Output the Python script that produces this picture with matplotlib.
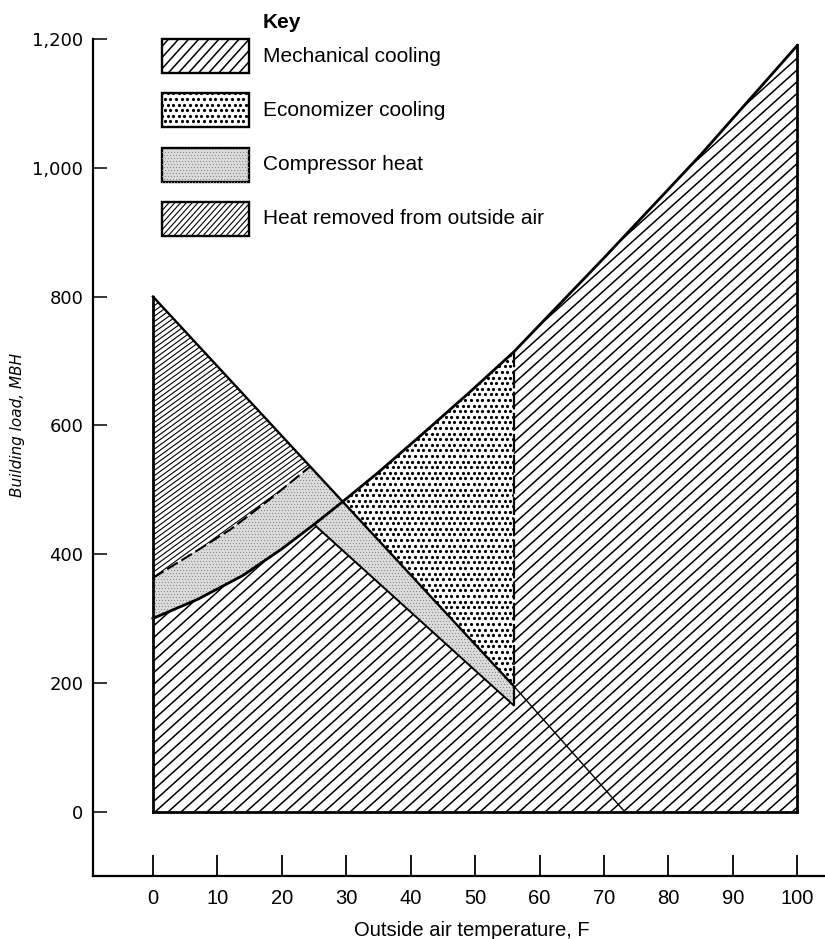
import numpy as np
import matplotlib
matplotlib.use("Agg")
import matplotlib.pyplot as plt
from matplotlib.patches import Polygon, Rectangle
from matplotlib.collections import LineCollection
from matplotlib.lines import Line2D
from matplotlib.transforms import IdentityTransform

# values: x = outside air temperature (F), y = building load (MBH)
# rising curve = building cooling load
load_x = [0, 7, 14, 20, 25, 29.4, 35, 42, 49, 56, 70, 85, 100]
load_y = [300, 330, 367, 408, 446, 481, 527, 588, 650, 714, 860, 1020, 1190]
# falling line = heat that has to be removed from outside air
heat_x = [0, 24.4, 29.4, 56, 73.2]
heat_y = [800, 536, 482, 195, 0]
# dashed curve = load plus compressor heat
comp_x = [0, 6, 12, 18, 24.4]
comp_y = [363, 400, 438, 484, 536]
# lower edge of the compressor heat band
band_x = [25, 56]
band_y = [446, 165]

x_ticks = list(range(0, 101, 10))
y_ticks = list(range(0, 1201, 200))
key_labels = ["Mechanical cooling", "Economizer cooling", "Compressor heat",
              "Heat removed from outside air"]

W, H = 825, 939
fig = plt.figure(figsize=(W / 100, H / 100), dpi=100)
ax = fig.add_axes([93 / W, 1 - 876 / H, (W - 93) / W, (876 - 39) / H])
ax.set_xlim(-9.3, 104.3)
ax.set_ylim(-100, 1200)

ident = IdentityTransform()


def hatch(parent, clip, bounds, angle, gap, lw):
    x0, y0, w, h = bounds
    t = np.tan(np.radians(angle))
    cs = np.arange(-t * w, h, gap / np.cos(np.radians(angle)))
    segs = [[(x0, y0 + c), (x0 + w, y0 + c + t * w)] for c in cs]
    lc = LineCollection(segs, colors="black", linewidths=lw, transform=ident)
    if parent is ax:
        ax.add_collection(lc, autolim=False)
    else:
        fig.add_artist(lc)
    lc.set_clip_path(clip)


def dots(parent, clip, bounds, gap, ms, color):
    x0, y0, w, h = bounds
    xs, ys = np.meshgrid(np.arange(x0, x0 + w, gap), np.arange(y0, y0 + h, gap))
    xs[1::2] += gap / 2
    ln = Line2D(xs.ravel(), ys.ravel(), ls="none", marker="o", ms=ms,
                mec="none", mfc=color, transform=ident)
    parent.add_artist(ln)
    ln.set_clip_path(clip)


def region(pts, face="white"):
    p = Polygon(pts, closed=True, facecolor=face, edgecolor="none")
    ax.add_patch(p)
    return p


# polygons built from the read values
mech_pts = ([(0, 0)] + list(zip(load_x[:5], load_y[:5])) + [(band_x[1], band_y[1])]
            + list(zip(load_x[9:], load_y[9:])) + [(load_x[-1], 0)])
comp_pts = (list(zip(load_x[:5], load_y[:5])) + [(band_x[1], band_y[1])]
            + list(zip(heat_x[3:0:-1], heat_y[3:0:-1]))
            + list(zip(comp_x[-2::-1], comp_y[-2::-1])))
econ_pts = list(zip(load_x[5:10], load_y[5:10])) + list(zip(heat_x[3:1:-1], heat_y[3:1:-1]))
hot_pts = list(zip(heat_x[:2], heat_y[:2])) + list(zip(comp_x[::-1], comp_y[::-1]))

bb = ax.bbox.bounds
p_mech = region(mech_pts)
hatch(ax, p_mech, bb, 42, 8.7, 1.1)
p_comp = region(comp_pts, "#dcdcdc")
dots(ax, p_comp, bb, 3.0, 0.9, "#888888")
p_econ = region(econ_pts)
dots(ax, p_econ, bb, 5.6, 2.3, "black")
p_hot = region(hot_pts)
hatch(ax, p_hot, bb, 36, 4.3, 0.8)

# outlines
ax.plot(load_x, load_y, color="black", lw=2.0)
ax.plot(heat_x[:4], heat_y[:4], color="black", lw=1.7)
ax.plot(heat_x[3:], heat_y[3:], color="black", lw=1.0)
ax.plot(comp_x, comp_y, color="black", lw=1.5, ls=(0, (6, 2)))
ax.plot(band_x, band_y, color="black", lw=1.4)
ax.plot([band_x[1], band_x[1]], [band_y[1], load_y[9]], color="black", lw=1.6, ls=(0, (8, 1.5)))
ax.plot([0, 0], [0, heat_y[0]], color="black", lw=2.0)
ax.plot([0, load_x[-1]], [0, 0], color="black", lw=2.0)
ax.plot([load_x[-1], load_x[-1]], [0, load_y[-1]], color="black", lw=2.0)

# axes styling
for s in ["top", "right"]:
    ax.spines[s].set_visible(False)
for s in ["left", "bottom"]:
    ax.spines[s].set_linewidth(1.6)
ax.set_xticks(x_ticks)
ax.set_xticklabels([str(v) for v in x_ticks], family="Liberation Sans", fontsize=14.5)
ax.set_yticks(y_ticks)
ax.set_yticklabels([f"{v:,}" for v in y_ticks], family="DejaVu Sans", fontsize=13)
ax.tick_params(axis="x", direction="in", length=15, width=1.3, pad=9)
ax.tick_params(axis="y", direction="in", length=10, width=1.1, pad=7)

fig.text(472 / W, 1 - 930 / H, "Outside air temperature, F", ha="center", va="center",
         family="Liberation Sans", fontsize=14.5)
fig.text(18 / W, 1 - 425 / H, "Building load, MBH", rotation=90, ha="center",
         va="center", fontsize=11, style="italic")

# key (image pixel positions, top-left origin)
fig.text(263 / W, 1 - 22 / H, "Key", ha="left", va="center", family="Liberation Sans",
         fontsize=15, weight="bold")
tops = [39, 93, 148, 202]
for i, (top, lab) in enumerate(zip(tops, key_labels)):
    bx = (162, H - top - 34, 87, 34)
    clip = Rectangle(bx[:2], bx[2], bx[3], transform=ident,
                     facecolor="#dcdcdc" if i == 2 else "white", edgecolor="none")
    fig.add_artist(clip)
    if i == 0:
        hatch(fig, clip, bx, 48, 7.5, 1.1)
    elif i == 1:
        dots(fig, clip, bx, 5.6, 2.3, "black")
    elif i == 2:
        dots(fig, clip, bx, 3.0, 0.9, "#888888")
    else:
        hatch(fig, clip, bx, 48, 4.3, 0.8)
    fig.add_artist(Rectangle(bx[:2], bx[2], bx[3], transform=ident, facecolor="none",
                             edgecolor="black", lw=1.7))
    fig.text(263 / W, 1 - (top + 17) / H, lab, ha="left", va="center",
             family="Liberation Sans", fontsize=15)

fig.savefig("out.png", dpi=100)
